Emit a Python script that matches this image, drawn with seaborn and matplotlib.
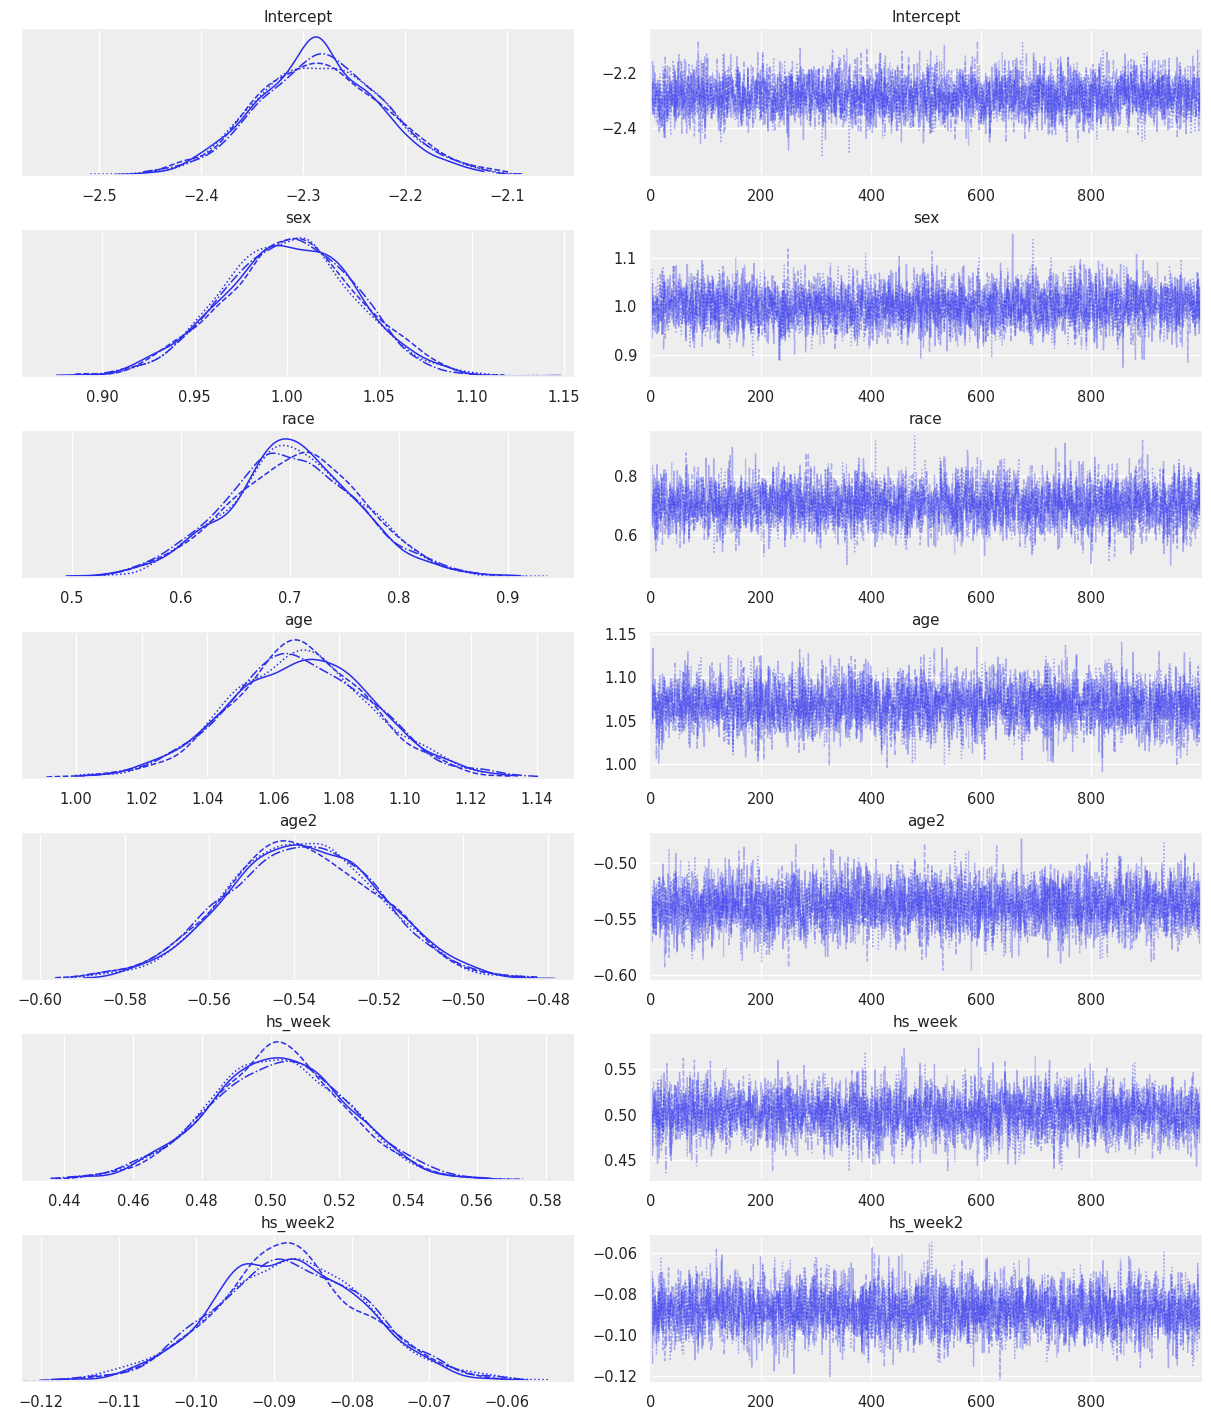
import numpy as np
import matplotlib
matplotlib.use("Agg")
import matplotlib.pyplot as plt
import seaborn as sns

# posterior summaries (per variable)
var_names = ["Intercept", "sex", "race", "age", "age2", "hs_week", "hs_week2"]
post_mean = [-2.282, 1.002, 0.703, 1.068, -0.538, 0.502, -0.088]
post_sd = [0.062, 0.036, 0.060, 0.022, 0.018, 0.020, 0.0095]

# axis ticks and visible ranges as printed in the chart
kde_ticks = [
    [-2.5, -2.4, -2.3, -2.2, -2.1],
    [0.90, 0.95, 1.00, 1.05, 1.10, 1.15],
    [0.5, 0.6, 0.7, 0.8, 0.9],
    [1.00, 1.02, 1.04, 1.06, 1.08, 1.10, 1.12, 1.14],
    [-0.60, -0.58, -0.56, -0.54, -0.52, -0.50, -0.48],
    [0.44, 0.46, 0.48, 0.50, 0.52, 0.54, 0.56, 0.58],
    [-0.12, -0.11, -0.10, -0.09, -0.08, -0.07, -0.06],
]
kde_labels = [
    ["\u22122.5", "\u22122.4", "\u22122.3", "\u22122.2", "\u22122.1"],
    ["0.90", "0.95", "1.00", "1.05", "1.10", "1.15"],
    ["0.5", "0.6", "0.7", "0.8", "0.9"],
    ["1.00", "1.02", "1.04", "1.06", "1.08", "1.10", "1.12", "1.14"],
    ["\u22120.60", "\u22120.58", "\u22120.56", "\u22120.54", "\u22120.52", "\u22120.50", "\u22120.48"],
    ["0.44", "0.46", "0.48", "0.50", "0.52", "0.54", "0.56", "0.58"],
    ["\u22120.12", "\u22120.11", "\u22120.10", "\u22120.09", "\u22120.08", "\u22120.07", "\u22120.06"],
]
kde_range = [(-2.575, -2.035), (0.857, 1.155), (0.455, 0.960), (0.984, 1.151),
             (-0.604, -0.474), (0.428, 0.588), (-0.1223, -0.0515)]
trace_ticks = [
    [-2.4, -2.2],
    [0.9, 1.0, 1.1],
    [0.6, 0.8],
    [1.00, 1.05, 1.10, 1.15],
    [-0.60, -0.55, -0.50],
    [0.45, 0.50, 0.55],
    [-0.12, -0.10, -0.08, -0.06],
]
trace_labels = [
    ["\u22122.4", "\u22122.2"],
    ["0.9", "1.0", "1.1"],
    ["0.6", "0.8"],
    ["1.00", "1.05", "1.10", "1.15"],
    ["\u22120.60", "\u22120.55", "\u22120.50"],
    ["0.45", "0.50", "0.55"],
    ["\u22120.12", "\u22120.10", "\u22120.08", "\u22120.06"],
]
trace_range = [(-2.575, -2.04), (0.857, 1.155), (0.455, 0.950), (0.984, 1.151),
               (-0.604, -0.474), (0.428, 0.588), (-0.1223, -0.0515)]
draw_ticks = [0, 200, 400, 600, 800]

n_chains = 4
n_draws = 1000
chain_styles = ["-", "--", ":", "-."]
blue = "#2a2eec"

sns.set_theme(style="darkgrid", rc={
    "axes.facecolor": "#eeeeee",
    "grid.color": "white",
    "axes.edgecolor": "#eeeeee",
    "text.color": "#222222",
    "xtick.color": "#222222",
    "ytick.color": "#222222",
})
plt.rcParams["font.family"] = ["DejaVu Sans"]

# sampler output (stand-in for the posterior draws)
rng = np.random.default_rng(7)
draws = np.arange(n_draws)
samples = {}
for name, mu, sd in zip(var_names, post_mean, post_sd):
    samples[name] = mu + sd * rng.standard_normal((n_chains, n_draws))

fig, axes = plt.subplots(len(var_names), 2, figsize=(12.11, 14.11))
fig.subplots_adjust(left=0.019, right=0.9917, top=0.9787, bottom=0.0213,
                    wspace=0.1416, hspace=0.386)

for i, name in enumerate(var_names):
    ax_kde, ax_tr = axes[i]
    for c in range(n_chains):
        vals = samples[name][c]
        sns.kdeplot(x=vals, ax=ax_kde, color=blue, linestyle=chain_styles[c],
                    lw=1.1, cut=0, bw_adjust=0.9)
        sns.lineplot(x=draws, y=vals, ax=ax_tr, color=blue, alpha=0.35,
                     linestyle=chain_styles[c], lw=1)
    ax_kde.set_yticks([])
    ax_kde.set_ylabel("")
    ax_kde.set_xlabel("")
    ax_kde.grid(axis="y", visible=False)
    ax_kde.set_xticks(kde_ticks[i], kde_labels[i])
    ax_kde.set_xlim(kde_range[i])
    ax_kde.set_title(name, fontsize=11)
    ax_kde.tick_params(labelsize=10.5, pad=4)

    ax_tr.set_xlim(0, n_draws - 1)
    ax_tr.set_xticks(draw_ticks)
    ax_tr.set_yticks(trace_ticks[i], trace_labels[i])
    ax_tr.set_ylim(trace_range[i])
    ax_tr.set_ylabel("")
    ax_tr.set_title(name, fontsize=11)
    ax_tr.tick_params(labelsize=10.5, pad=4)

fig.savefig("out.png", dpi=100)
